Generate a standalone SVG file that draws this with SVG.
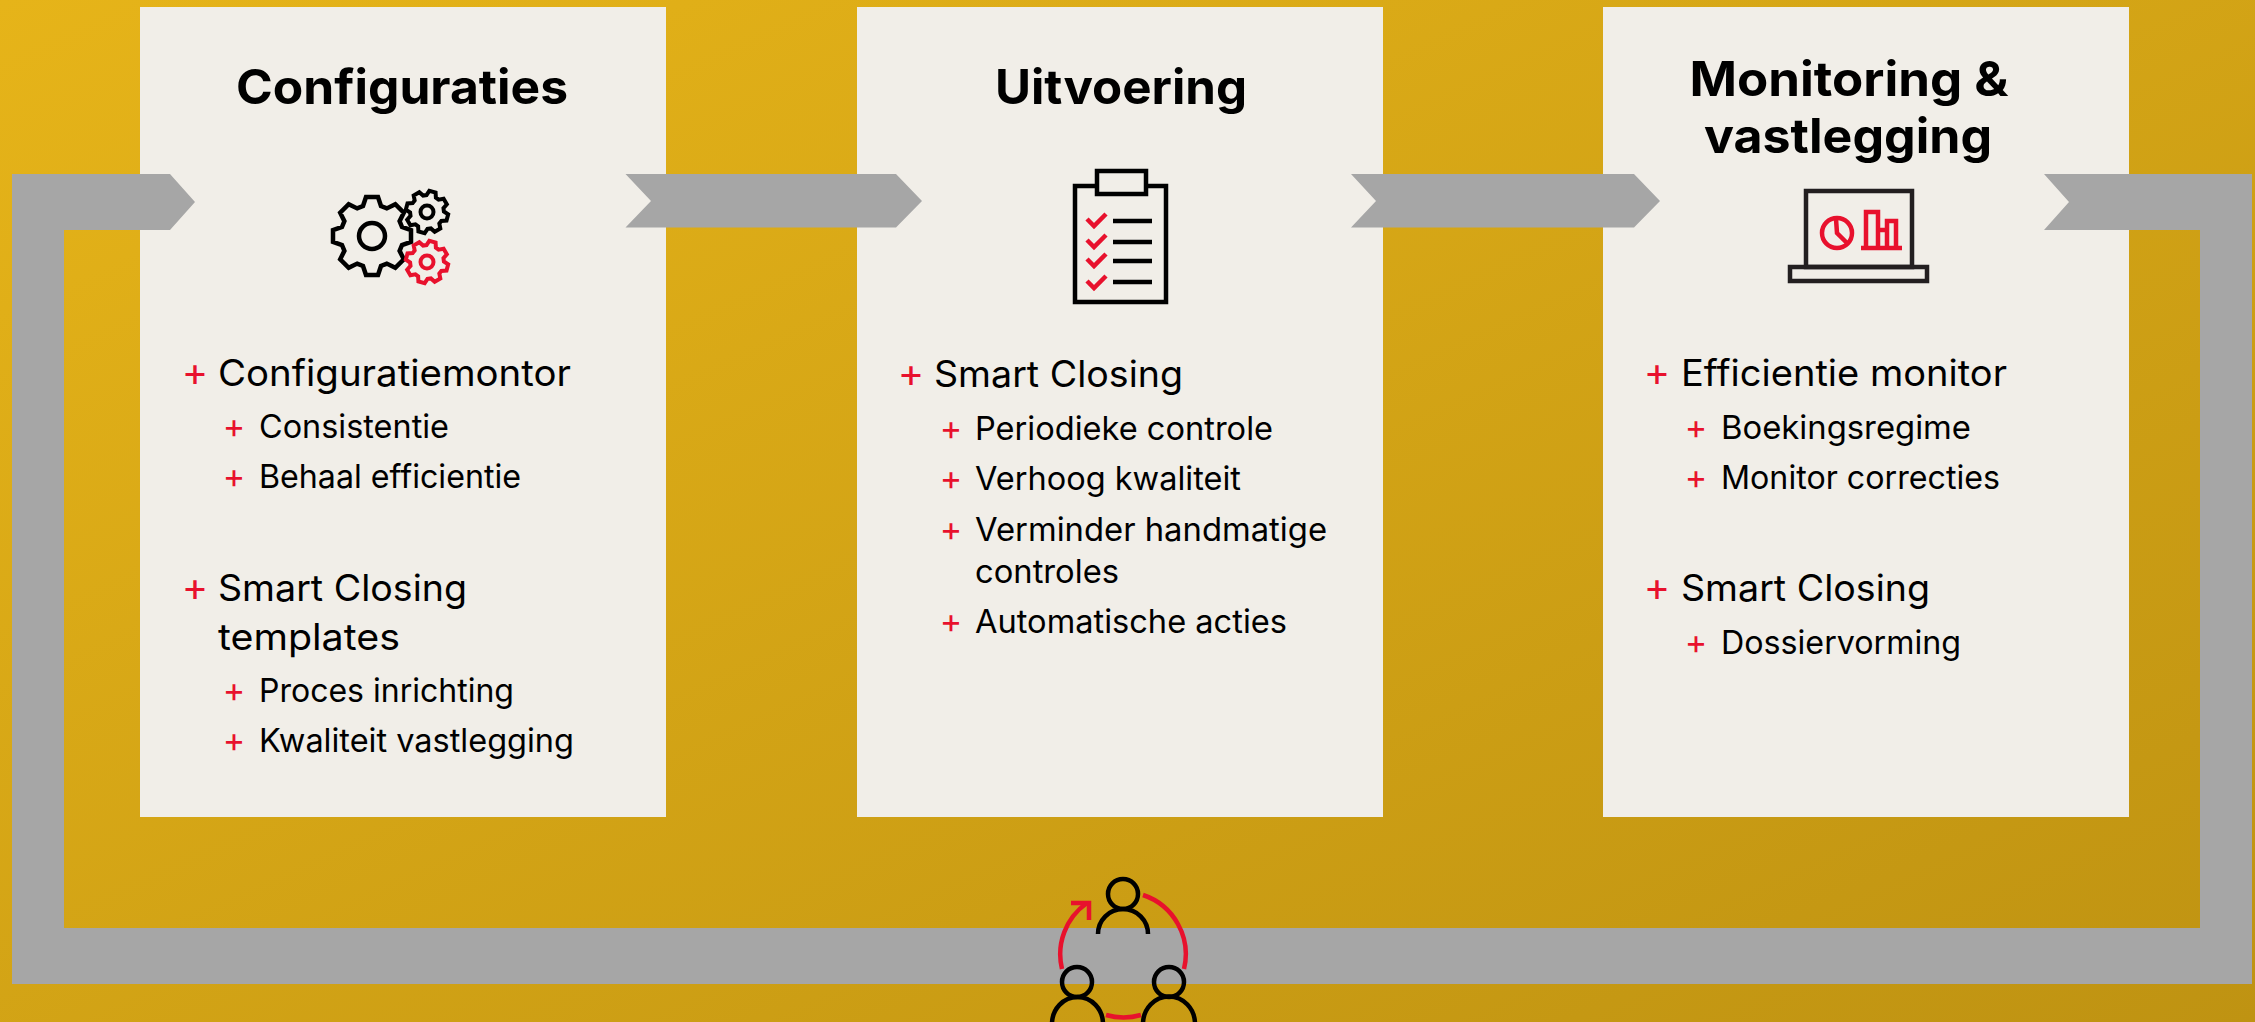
<svg xmlns="http://www.w3.org/2000/svg" width="2255" height="1022" viewBox="0 0 2255 1022">
<style>
text{font-family:"Inter","Liberation Sans",sans-serif;fill:#000}
.h{font-size:48px;font-weight:700;text-anchor:middle}
.a{font-size:37px;font-weight:400}
.b{font-size:32.500px;font-weight:400}
.pa{font-size:40px;font-weight:400;fill:#e8112d;text-anchor:middle}
.pb{font-size:34px;font-weight:400;fill:#e8112d;text-anchor:middle}
.card{fill:#f1eee8}
.conn{fill:#a6a6a6}
.k{fill:none;stroke:#000;stroke-width:4.5}
.r{fill:none;stroke:#e8112d;stroke-width:4.5}
.g{vector-effect:non-scaling-stroke}
</style>
<defs>
<linearGradient id="bg" x1="0" y1="0" x2="1" y2="1"><stop offset="0" stop-color="#e6b419"/><stop offset="1" stop-color="#bf9312"/></linearGradient>
<polygon id="gear" class="g" points="-9,-30 -6,-39 6,-39 9,-30 14.8,-27.6 23.3,-31.8 31.8,-23.3 27.6,-14.8 30,-9 39,-6 39,6 30,9 27.6,14.8 31.8,23.3 23.3,31.8 14.8,27.6 9,30 6,39 -6,39 -9,30 -14.8,27.6 -23.3,31.8 -31.8,23.3 -27.6,14.8 -30,9 -39,6 -39,-6 -30,-9 -27.6,-14.8 -31.8,-23.3 -23.3,-31.8 -14.8,-27.6"/>
</defs>
<rect width="2255" height="1022" fill="url(#bg)"/>
<g id="card-configuraties">
<rect class="card" x="140" y="7" width="526" height="810"/>
<text class="h" x="402" y="104" textLength="332" lengthAdjust="spacingAndGlyphs">Configuraties</text>
<g id="icon-gears">
<use href="#gear" transform="translate(372 236)" class="k"/>
<circle class="k" cx="372" cy="236" r="13"/>
<use href="#gear" transform="translate(427 212) rotate(15) scale(.54)" class="k" style="stroke-width:4"/>
<circle class="k" cx="427" cy="212" r="6.5" style="stroke-width:4"/>
<use href="#gear" transform="translate(427 262) rotate(15) scale(.54)" class="r" style="stroke-width:4"/>
<circle class="r" cx="427" cy="262" r="6.5" style="stroke-width:4"/>
</g>
<text class="pa" x="195" y="386">+</text><text class="a" x="218" y="386" textLength="353" lengthAdjust="spacingAndGlyphs">Configuratiemontor</text>
<text class="pb" x="234" y="438">+</text><text class="b" x="259" y="438" textLength="190" lengthAdjust="spacingAndGlyphs">Consistentie</text>
<text class="pb" x="234" y="488">+</text><text class="b" x="259" y="488" textLength="262" lengthAdjust="spacingAndGlyphs">Behaal efficientie</text>
<text class="pa" x="195" y="601">+</text><text class="a" x="218" y="601" textLength="249" lengthAdjust="spacingAndGlyphs">Smart Closing</text>
<text class="a" x="218" y="650" textLength="182" lengthAdjust="spacingAndGlyphs">templates</text>
<text class="pb" x="234" y="702">+</text><text class="b" x="259" y="702" textLength="255" lengthAdjust="spacingAndGlyphs">Proces inrichting</text>
<text class="pb" x="234" y="752">+</text><text class="b" x="259" y="752" textLength="315" lengthAdjust="spacingAndGlyphs">Kwaliteit vastlegging</text>
</g>
<g id="card-uitvoering">
<rect class="card" x="857" y="7" width="526" height="810"/>
<text class="h" x="1121" y="104" textLength="252" lengthAdjust="spacingAndGlyphs">Uitvoering</text>
<g id="icon-clipboard">
<rect class="k" x="1075" y="186" width="91" height="116"/>
<rect class="k" x="1097" y="171" width="49" height="23" style="fill:#f1eee8"/>
<path class="r" d="M1087 219l7 7 12-12M1087 240l7 7 12-12M1087 259l7 7 12-12M1087 281l7 7 12-12"/>
<path class="k" d="M1113 221h39M1113 242h39M1113 261h39M1113 282h39"/>
</g>
<text class="pa" x="911" y="387">+</text><text class="a" x="934" y="387" textLength="249" lengthAdjust="spacingAndGlyphs">Smart Closing</text>
<text class="pb" x="951" y="440">+</text><text class="b" x="975" y="440" textLength="298" lengthAdjust="spacingAndGlyphs">Periodieke controle</text>
<text class="pb" x="951" y="490">+</text><text class="b" x="975" y="490" textLength="266" lengthAdjust="spacingAndGlyphs">Verhoog kwaliteit</text>
<text class="pb" x="951" y="541">+</text><text class="b" x="975" y="541" textLength="352" lengthAdjust="spacingAndGlyphs">Verminder handmatige</text>
<text class="b" x="975" y="583" textLength="144" lengthAdjust="spacingAndGlyphs">controles</text>
<text class="pb" x="951" y="633">+</text><text class="b" x="975" y="633" textLength="312" lengthAdjust="spacingAndGlyphs">Automatische acties</text>
</g>
<g id="card-monitoring">
<rect class="card" x="1603" y="7" width="526" height="810"/>
<text class="h" x="1849" y="96" textLength="319" lengthAdjust="spacingAndGlyphs">Monitoring &amp;</text>
<text class="h" x="1848" y="153" textLength="288" lengthAdjust="spacingAndGlyphs">vastlegging</text>
<g id="icon-laptop">
<rect class="k" x="1806" y="191" width="106" height="76" style="stroke:#231f20"/>
<rect class="k" x="1790" y="267" width="137" height="14" style="stroke:#231f20"/>
<circle class="r" cx="1837" cy="233" r="15"/>
<path class="r" d="M1836 219l1 14 10 10M1861 248h41M1866 248v-36h12v36M1878 248v-18h9v18M1887 248v-27h9v27"/>
</g>
<text class="pa" x="1657" y="386">+</text><text class="a" x="1681" y="386" textLength="326" lengthAdjust="spacingAndGlyphs">Efficientie monitor</text>
<text class="pb" x="1696" y="439">+</text><text class="b" x="1721" y="439" textLength="250" lengthAdjust="spacingAndGlyphs">Boekingsregime</text>
<text class="pb" x="1696" y="489">+</text><text class="b" x="1721" y="489" textLength="279" lengthAdjust="spacingAndGlyphs">Monitor correcties</text>
<text class="pa" x="1657" y="601">+</text><text class="a" x="1681" y="601" textLength="249" lengthAdjust="spacingAndGlyphs">Smart Closing</text>
<text class="pb" x="1696" y="654">+</text><text class="b" x="1721" y="654" textLength="240" lengthAdjust="spacingAndGlyphs">Dossiervorming</text>
</g>
<g id="connectors">
<polygon class="conn" points="2044,174 2252,174 2252,984 12,984 12,174 170,174 195,202 170,230 64,230 64,928 2200,928 2200,230 2044,230 2069,202"/>
<polygon class="conn" points="625.500,174 896,174 922,201 896,227.500 625.500,227.500 651,201"/>
<polygon class="conn" points="1351,174 1634,174 1660,201 1634,227.500 1351,227.500 1376,201"/>
</g>
<g id="icon-team">
<path class="r" d="M1143 895A62.5 62.5 0 0 1 1184 969M1106 1015A62.5 62.5 0 0 0 1141 1015M1062 969A62.5 62.5 0 0 1 1087 903M1071 903h18v17"/>
<circle class="k" cx="1123" cy="894" r="15"/>
<path class="k" d="M1098 934A25 25 0 0 1 1148 934"/>
<circle class="k" cx="1077" cy="982" r="15"/>
<path class="k" d="M1052 1024A25.5 27 0 0 1 1103 1024"/>
<circle class="k" cx="1169" cy="982" r="15"/>
<path class="k" d="M1143 1024A25.5 27 0 0 1 1195 1024"/>
</g>
</svg>
